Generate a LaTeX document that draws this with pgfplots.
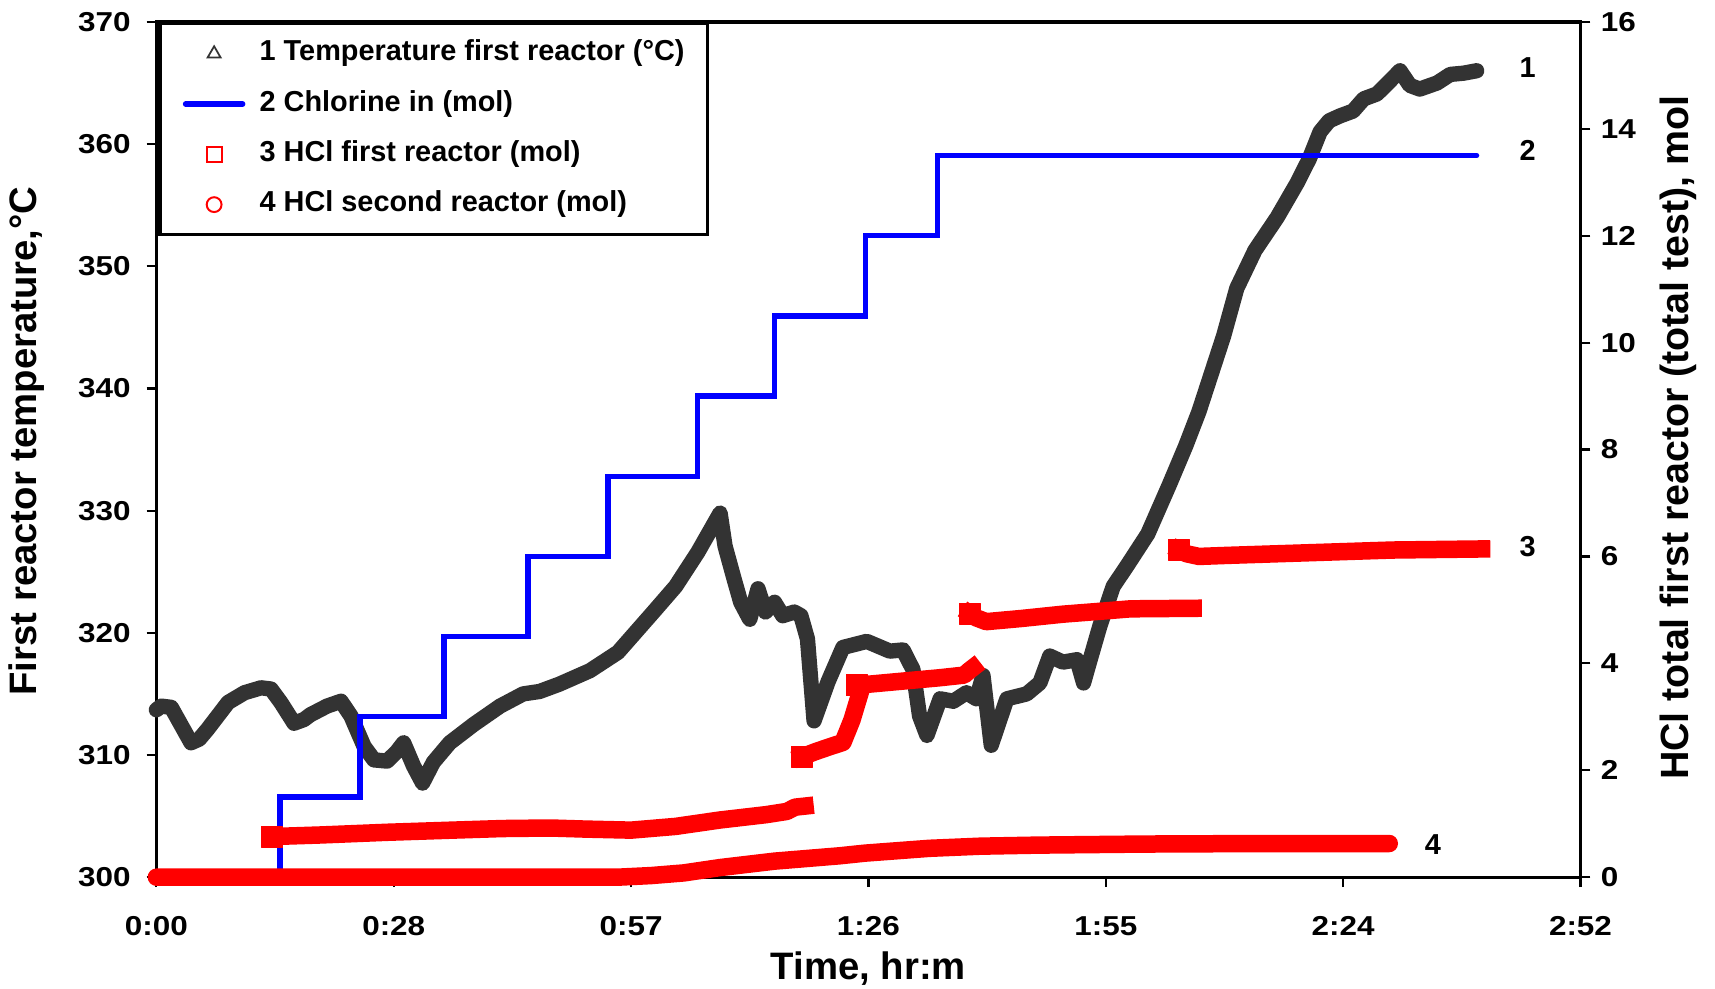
\documentclass[border=0pt]{standalone}
\usepackage{fontspec}
\setmainfont{Liberation Sans}
\newfontfamily\widefont{Liberation Sans}[FakeStretch=1.15]
\usepackage{pgfplots}
\pgfplotsset{compat=1.18}

\definecolor{tempgray}{HTML}{333333}
\definecolor{clblue}{HTML}{0000FF}
\definecolor{hclred}{HTML}{FF0000}

\newcommand{\tickfont}{\widefont\bfseries\fontsize{12.5}{14}\selectfont}
\newcommand{\labfont}{\bfseries\fontsize{17.5}{20}\selectfont}
\newcommand{\rlabfont}{\bfseries\fontsize{18}{20}\selectfont}
\newcommand{\legfont}{\bfseries\fontsize{13.2}{15}\selectfont}

\pgfplotsset{
  common/.style={
    width=651pt, height=391pt, scale only axis,
    xmin=0, xmax=172.8,
    tick align=outside,
    major tick length=4.5pt,
    every tick/.style={black, line width=1pt},
    axis line style={line width=1.5pt},
    tick label style={font=\tickfont},
    /pgf/number format/assume math mode=true,
    clip=false,
  }
}

\begin{document}
\begin{tikzpicture}
% left axis: time and first reactor temperature
\begin{axis}[
  common,
  ymin=300, ymax=370,
  xtick={0,28.8,57.6,86.4,115.2,144,172.8},
  xticklabels={0:00,0:28,0:57,1:26,1:55,2:24,2:52},
  ytick={300,310,320,330,340,350,360,370},
  xtick pos=left, ytick pos=left,
  xticklabel shift=10pt,
  yticklabel shift=3.8pt,
  every axis x label/.style={at={(axis description cs:0.5,-0.107)}, anchor=center, font=\labfont},
  every axis y label/.style={at={(axis description cs:-0.091,0.51)}, rotate=90, anchor=center, font=\labfont},
  xlabel={Time, hr:m},
  ylabel={First reactor temperature,°C},
]
\coordinate (o) at (rel axis cs:0,0);
\addplot[tempgray, line width=7pt, line join=round, line cap=round] coordinates {
(0.0,313.7) (0.6,314.0) (1.8,313.9) (4.2,311.0) (5.2,311.3) (6.2,312.1)
(8.7,314.3) (10.7,315.1) (12.7,315.5) (13.9,315.4) (15.1,314.3) (16.7,312.6)
(17.9,312.9) (18.7,313.3) (20.7,314.0) (22.4,314.4) (23.6,313.2) (25.2,310.7)
(26.4,309.6) (28.0,309.5) (29.2,310.3) (30.0,311.0) (31.2,309.1) (32.3,307.7)
(33.6,309.4) (35.6,311.0) (38.5,312.5) (41.7,314.0) (44.5,315.0) (46.5,315.2)
(48.9,315.8) (52.6,316.9) (56.0,318.4) (60.3,321.7) (63.0,323.8) (65.7,326.6)
(68.4,329.8) (69.0,327.1) (70.1,324.4) (70.9,322.5) (72.0,321.1) (73.0,323.6)
(73.9,321.7) (75.0,322.5) (76.0,321.4) (77.4,321.7) (78.2,321.4) (79.0,319.5)
(79.8,312.8) (81.5,316.0) (83.3,318.8) (86.2,319.3) (89.0,318.5) (90.6,318.6)
(91.8,317.0) (92.6,313.2) (93.5,311.6) (95.1,314.6) (96.7,314.4) (98.3,315.1)
(99.5,314.6) (100.3,316.5) (101.3,310.8) (103.2,314.6) (105.6,315.0) (107.2,315.9)
(108.4,318.1) (110.0,317.6) (111.7,317.8) (112.5,315.9) (113.3,317.8) (114.5,320.6)
(116.1,323.8) (117.7,325.4) (120.3,328.1) (122.9,332.1) (124.9,335.3) (126.5,338.1)
(128.0,341.2) (129.5,344.3) (131.1,348.2) (133.3,351.3) (136.0,354.0) (138.4,356.8)
(139.9,358.8) (141.2,361.0) (142.3,361.9) (143.6,362.3) (145.2,362.7) (146.5,363.7)
(148.1,364.1) (149.3,364.9) (150.9,366.0) (152.1,364.8) (153.3,364.5) (155.4,365.0)
(157.0,365.7) (158.6,365.8) (160.2,366.0)
};
\end{axis}

% right axis: chlorine fed and HCl totals
\begin{axis}[
  common,
  ymin=0, ymax=16,
  axis x line=none, axis y line*=right,
  ytick={0,2,4,6,8,10,12,14,16},
  ytick pos=right,
  yticklabel shift=1.3pt,
  every axis y label/.style={at={(axis description cs:1.069,0.514)}, rotate=90, anchor=center, font=\rlabfont},
  ylabel={HCl total first reactor (total test), mol},
  legend cell align=left,
  legend style={
    at={(axis description cs:0.0012,1)}, anchor=north west,
    draw=black, line width=1.6pt, fill=white,
    font=\legfont,
    inner xsep=10.5pt, inner ysep=7.5pt,
    row sep=10.5pt, column sep=6.5pt,
    nodes={inner sep=0pt, text height=9.5pt, text depth=3pt},
  },
]
% chlorine fed, in steps of 1.5 mol
\addplot[clblue, line width=2.4pt, line cap=round, line join=miter, forget plot] coordinates {
(15.0,0) (15.0,1.5) (24.7,1.5) (24.7,3.0) (34.9,3.0) (34.9,4.5) (45.1,4.5) (45.1,6.0)
(54.8,6.0) (54.8,7.5) (65.7,7.5) (65.7,9.0) (75.0,9.0) (75.0,10.5) (86.0,10.5)
(86.0,12.0) (94.8,12.0) (94.8,13.5) (160.2,13.5)
};
% HCl first reactor, one piece per chlorine step; a square marks where each piece starts
\pgfplotsset{hclband/.style={hclred, line width=8pt, line join=round, line cap=rect, forget plot,
  mark=square*, mark indices={1}, mark size=4.8pt,
  mark options={solid, draw=hclred, fill=hclred, line width=0.4pt}}}
\addplot[hclband] coordinates {
(14.0,0.76) (20,0.79) (28,0.84) (35.9,0.88) (42,0.91) (47.8,0.92) (52,0.90)
(57.6,0.88) (63,0.95) (68.4,1.07) (74,1.17) (76.5,1.23) (77.5,1.31) (78.7,1.33)
};
\addplot[hclband] coordinates {
(78.3,2.25) (80,2.35) (81.7,2.44) (83.3,2.52) (84.4,2.94) (85.2,3.35)
};
\addplot[hclband] coordinates {
(85.0,3.59) (90,3.66) (95,3.73) (98.0,3.78) (98.6,3.86) (99.1,3.92)
};
\addplot[hclband] coordinates {
(98.7,4.93) (99.5,4.85) (100.7,4.78) (105,4.84) (110,4.92) (115,4.98) (118.2,5.02) (125.8,5.03)
};
\addplot[hclband] coordinates {
(124.1,6.12) (125.0,6.05) (126.5,6.0) (130,6.02) (140,6.07) (150,6.12) (160.8,6.14)
};
% HCl second reactor
\addplot[hclred, line width=8pt, line join=round, line cap=round, forget plot] coordinates {
(0,0) (56,0) (60,0.03) (64,0.08) (68.4,0.18) (75,0.3) (82.9,0.4) (86,0.45)
(93.8,0.54) (100,0.58) (107,0.6) (120,0.62) (135,0.63) (149.6,0.63)
};

% curve numbers
\node[font=\legfont] at (axis cs:166.4,15.14) {1};
\node[font=\legfont] at (axis cs:166.4,13.59) {2};
\node[font=\legfont] at (axis cs:166.4,6.18) {3};
\node[font=\legfont] at (axis cs:154.9,0.61) {4};

% legend entries
\addlegendimage{legend image code/.code={
  \path[draw=none, fill=none] (0pt,-4pt) rectangle (26pt,4pt);
  \draw[tempgray, line width=0.8pt, fill=none] plot[mark=triangle, mark size=3.4pt] coordinates {(13pt,0pt)};}}
\addlegendentry{1 Temperature first reactor (°C)}
\addlegendimage{legend image code/.code={
  \path[draw=none, fill=none] (0pt,-4pt) rectangle (26pt,4pt);
  \draw[clblue, line width=2.6pt, line cap=round] (0pt,0pt) -- (26pt,0pt);}}
\addlegendentry{2 Chlorine in (mol)}
\addlegendimage{legend image code/.code={
  \path[draw=none, fill=none] (0pt,-4pt) rectangle (26pt,4pt);
  \draw[hclred, line width=0.9pt, fill=none] plot[mark=square, mark size=3.4pt] coordinates {(13pt,0pt)};}}
\addlegendentry{3 HCl first reactor (mol)}
\addlegendimage{legend image code/.code={
  \path[draw=none, fill=none] (0pt,-4pt) rectangle (26pt,4pt);
  \draw[hclred, line width=0.9pt, fill=none] plot[mark=o, mark size=3.4pt] coordinates {(13pt,0pt)};}}
\addlegendentry{4 HCl second reactor (mol)}
\end{axis}

\pgfresetboundingbox
\path[use as bounding box] ([shift={(-71.5pt,-51pt)}]o) rectangle ([shift={(712.5pt,401pt)}]o);
\end{tikzpicture}
\end{document}
